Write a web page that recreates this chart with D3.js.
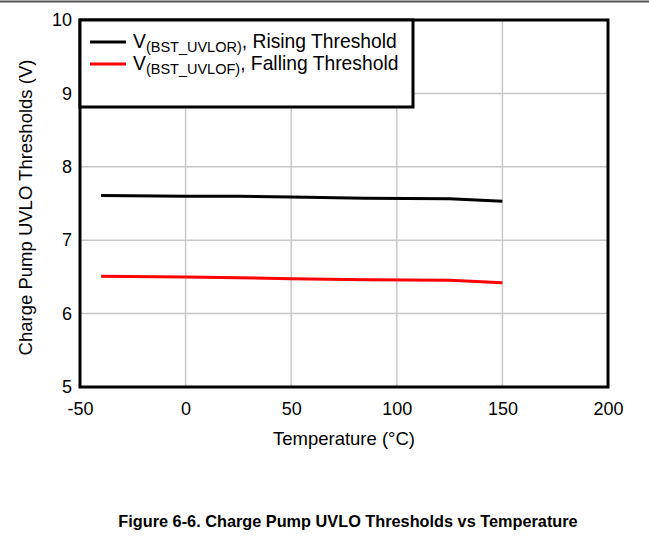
<!DOCTYPE html>
<html><head><meta charset="utf-8">
<script src="https://cdn.jsdelivr.net/npm/d3@7/dist/d3.min.js"></script>
<style>body{margin:0;background:#fff}svg{display:block;font-family:Arial,"Liberation Sans",sans-serif}</style>
</head><body><svg id="c" width="649" height="537"></svg>
<script>
const temps = [-40, 0, 25, 50, 85, 125, 150];
const rising = [7.61, 7.60, 7.60, 7.59, 7.57, 7.565, 7.53];
const falling = [6.51, 6.50, 6.49, 6.475, 6.46, 6.455, 6.42];
const xTicks = [-50, 0, 50, 100, 150, 200];
const yTicks = [5, 6, 7, 8, 9, 10];
const seriesNames = ["Rising Threshold", "Falling Threshold"];
const seriesSubs = ["(BST_UVLOR)", "(BST_UVLOF)"];
const colors = ["#000000", "#ff0000"];

const FF = "Arial, Liberation Sans, sans-serif";
const svg = d3.select("#c");
const L = 80, R = 608, T = 20, B = 387;
const x = d3.scaleLinear().domain([-50, 200]).range([L, R]);
const y = d3.scaleLinear().domain([5, 10]).range([B, T]);

svg.append("line").attr("x1",0).attr("x2",649).attr("y1",1.5).attr("y2",1.5).attr("stroke","#555").attr("stroke-width",2);

// grid
svg.append("g").selectAll("line").data(xTicks.slice(1,-1)).join("line")
  .attr("x1",d=>x(d)).attr("x2",d=>x(d)).attr("y1",T).attr("y2",B)
  .attr("stroke","#c8c8c8").attr("stroke-width",1.5);
svg.append("g").selectAll("line").data(yTicks.slice(1,-1)).join("line")
  .attr("x1",L).attr("x2",R).attr("y1",d=>y(d)).attr("y2",d=>y(d))
  .attr("stroke","#c8c8c8").attr("stroke-width",1.5);

// axes tick labels
const xa = svg.append("g").attr("transform",`translate(0,${B})`)
  .call(d3.axisBottom(x).tickValues(xTicks).tickFormat(d=>String(d)).tickSize(0).tickPadding(15));
xa.select(".domain").remove();
xa.selectAll("text").attr("font-size",18).attr("fill","#000").attr("font-family",FF);
const ya = svg.append("g").attr("transform",`translate(${L},0)`)
  .call(d3.axisLeft(y).tickValues(yTicks).tickFormat(d=>String(d)).tickSize(0).tickPadding(8));
ya.select(".domain").remove();
ya.selectAll("text").attr("font-size",18).attr("fill","#000").attr("font-family",FF);

// lines
const line = d3.line().x((d,i)=>x(temps[i])).y(d=>y(d));
[rising, falling].forEach((s,k)=>{
  svg.append("path").datum(s).attr("d",line).attr("fill","none")
    .attr("stroke",colors[k]).attr("stroke-width",3);
});

// border
svg.append("rect").attr("x",L).attr("y",T).attr("width",R-L).attr("height",B-T)
  .attr("fill","none").attr("stroke","#000").attr("stroke-width",3);

// legend
const lg = svg.append("g");
lg.append("rect").attr("x",L).attr("y",T).attr("width",333).attr("height",87)
  .attr("fill","#fff").attr("stroke","#000").attr("stroke-width",3);
seriesNames.forEach((n,i)=>{
  const yy = 42 + i*22;
  lg.append("line").attr("x1",90).attr("x2",126).attr("y1",yy).attr("y2",yy)
    .attr("stroke",colors[i]).attr("stroke-width",3);
  const t = lg.append("text").attr("x",133).attr("y",yy+6).attr("font-size",19.3).attr("fill","#000");
  t.append("tspan").text("V");
  t.append("tspan").attr("font-size",14.5).attr("dy",4).text(seriesSubs[i]);
  t.append("tspan").attr("dy",-4).text(", " + n);
});

// axis titles
svg.append("text").attr("x",(L+R)/2).attr("y",445).attr("text-anchor","middle")
  .attr("font-size",18.5).text("Temperature (°C)");
svg.append("text").attr("transform",`translate(32,${(T+B)/2 + 4}) rotate(-90)`).attr("text-anchor","middle")
  .attr("font-size",18.5).text("Charge Pump UVLO Thresholds (V)");

svg.append("text").attr("x",348).attr("y",527).attr("text-anchor","middle")
  .attr("font-size",16.3).attr("font-weight","bold").text("Figure 6-6. Charge Pump UVLO Thresholds vs Temperature");
</script></body></html>
